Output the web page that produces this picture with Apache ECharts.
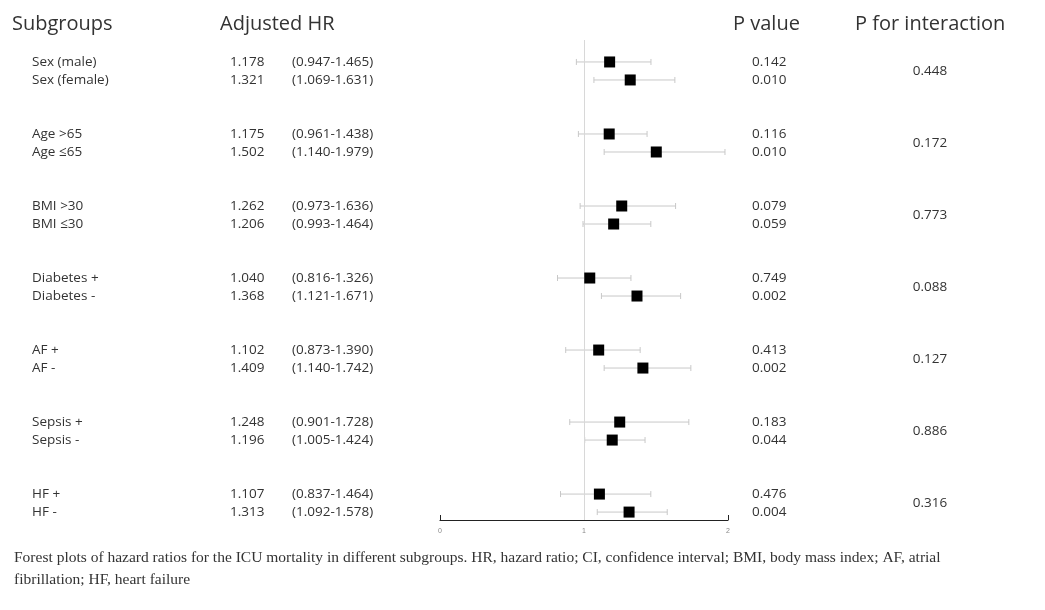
<!DOCTYPE html>
<html><head><meta charset="utf-8">
<script src="https://cdn.jsdelivr.net/npm/echarts@6/dist/echarts.min.js"></script>
<style>html,body{margin:0;background:#fff}#c{width:1045px;height:610px}</style>
</head><body><div id="c"></div>
<script>
// Forest plot: HR per subgroup with CI whiskers, text columns on each side.
const labels = ["Sex (male)", "Sex (female)", "Age >65", "Age ≤65", "BMI >30", "BMI ≤30",
  "Diabetes +", "Diabetes -", "AF +", "AF -", "Sepsis +", "Sepsis -", "HF +", "HF -"];
const hr = [1.178, 1.321, 1.175, 1.502, 1.262, 1.206, 1.040, 1.368, 1.102, 1.409, 1.248, 1.196, 1.107, 1.313];
const lo = [0.947, 1.069, 0.961, 1.140, 0.973, 0.993, 0.816, 1.121, 0.873, 1.140, 0.901, 1.005, 0.837, 1.092];
const hi = [1.465, 1.631, 1.438, 1.979, 1.636, 1.464, 1.326, 1.671, 1.390, 1.742, 1.728, 1.424, 1.464, 1.578];
const pval = ["0.142", "0.010", "0.116", "0.010", "0.079", "0.059", "0.749", "0.002", "0.413", "0.002", "0.183", "0.044", "0.476", "0.004"];
const pInter = ["0.448", "0.172", "0.773", "0.088", "0.127", "0.886", "0.316"];
const xTicks = ["0", "1", "2"];

// row slot: group*4 + member (one slot ≈ 18px)
const rowPos = labels.map((_, i) => Math.floor(i / 2) * 4 + (i % 2));

const chart = echarts.init(document.getElementById("c"));
const txt = "#333";
chart.setOption({
  animation: false,
  grid: { left: 440, right: 317, top: 40, bottom: 90 },
  xAxis: { type: "value", min: 0, max: 2, interval: 1, position: "bottom",
    axisLine: { show: true, onZero: false, lineStyle: { color: "#222", width: 1.2 } },
    axisTick: { show: true, inside: true, length: 5, lineStyle: { color: "#222" } },
    axisLabel: { color: "#888", fontSize: 7, margin: 8, formatter: (v) => xTicks[v] },
    splitLine: { show: false } },
  yAxis: { type: "value", min: -1.22, max: 25.44, inverse: true, show: false },
  series: [
    { type: "custom", silent: true, data: labels.map((_, i) => [lo[i], hi[i], rowPos[i]]),
      renderItem: (p, api) => {
        const a = api.coord([api.value(0), api.value(2)]), b = api.coord([api.value(1), api.value(2)]);
        const st = { stroke: "#c8c8c8", lineWidth: 1 };
        return { type: "group", children: [
          { type: "line", shape: { x1: a[0], y1: a[1], x2: b[0], y2: b[1] }, style: st },
          { type: "line", shape: { x1: a[0], y1: a[1] - 3, x2: a[0], y2: a[1] + 3 }, style: st },
          { type: "line", shape: { x1: b[0], y1: b[1] - 3, x2: b[0], y2: b[1] + 3 }, style: st }] };
      },
      markLine: { silent: true, symbol: "none", label: { show: false },
        lineStyle: { color: "#d8d8d8", type: "solid", width: 1 }, data: [{ xAxis: 1 }] } },
    { type: "scatter", symbol: "rect", symbolSize: 11, itemStyle: { color: "#000", opacity: 1 }, z: 5,
      data: hr.map((v, i) => [v, rowPos[i]]) },
  ],
});

const g = [];
const font = "Segoe UI, 'Open Sans', 'DejaVu Sans', sans-serif";
const T = (x, y, s, size, align, fam) => g.push({ type: "text", x, y,
  style: { text: s, fill: txt, font: `${size}px ${fam || font}`, textAlign: align || "left", textVerticalAlign: "middle" } });
T(12, 24, "Subgroups", 20); T(220, 24, "Adjusted HR", 20); T(733, 24, "P value", 20); T(855, 24, "P for interaction", 20);
labels.forEach((l, i) => {
  const y = chart.convertToPixel({ yAxisIndex: 0 }, rowPos[i]);
  T(32, y, l, 13.5); T(230, y, hr[i].toFixed(3), 13.5);
  T(292, y, `(${lo[i].toFixed(3)}-${hi[i].toFixed(3)})`, 13.5);
  T(752, y, pval[i], 13.5);
});
pInter.forEach((p, k) => {
  const y = chart.convertToPixel({ yAxisIndex: 0 }, k * 4 + 0.5);
  T(930, y, p, 13.5, "center");
});
const serif = "'Liberation Serif', 'DejaVu Serif', serif";
T(14, 558, "Forest plots of hazard ratios for the ICU mortality in different subgroups. HR, hazard ratio; CI, confidence interval; BMI, body mass index; AF, atrial", 15.5, "left", serif);
T(14, 580, "fibrillation; HF, heart failure", 15.5, "left", serif);
chart.setOption({ graphic: g });
</script></body></html>
